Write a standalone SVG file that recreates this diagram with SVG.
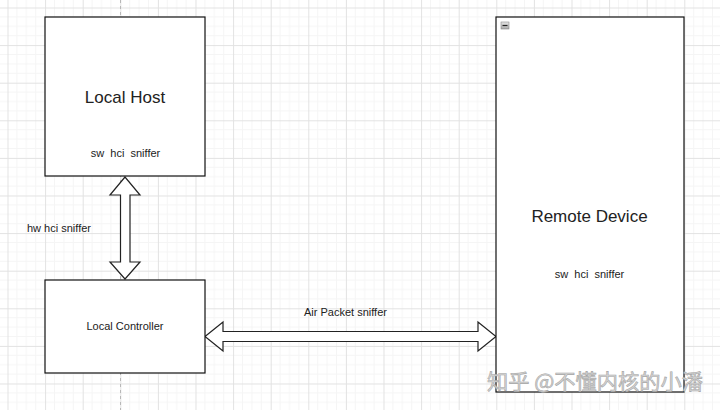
<svg xmlns="http://www.w3.org/2000/svg" width="720" height="410" viewBox="0 0 720 410">
  <defs>
    <pattern id="grid" x="7.5" y="7.5" width="37.6" height="37.6" patternUnits="userSpaceOnUse">
      <path d="M9.4 0V37.6M18.8 0V37.6M28.2 0V37.6M0 9.4H37.6M0 18.8H37.6M0 28.2H37.6" stroke="#f5f5f5" stroke-width="1" fill="none"/>
      <path d="M0.5 0V37.6M0 0.5H37.6" stroke="#e2e2e2" stroke-width="1" fill="none"/>
    </pattern>
    <linearGradient id="icon" x1="0" y1="0" x2="0" y2="1">
      <stop offset="0" stop-color="#e8e8e8"/>
      <stop offset="1" stop-color="#a8a8a8"/>
    </linearGradient>
  </defs>
  <style>
    .box { fill: #ffffff; stroke: #111111; stroke-width: 1.2; }
    .arrow { fill: #ffffff; stroke: #222222; stroke-width: 1.2; stroke-linejoin: miter; }
    .big { font-family: "Liberation Sans", Arial, sans-serif; font-size: 17px; fill: #222222; text-anchor: middle; }
    .small { font-family: "Liberation Sans", Arial, sans-serif; font-size: 11px; fill: #222222; text-anchor: middle; white-space: pre; }
  </style>
  <rect width="720" height="410" fill="#ffffff"/>
  <rect width="720" height="410" fill="url(#grid)"/>
  <line x1="120.5" y1="0" x2="120.5" y2="410" stroke="#b8b8b8" stroke-width="1" stroke-dasharray="3,3"/>

  <g id="connectors">
    <polygon class="arrow" points="125,177 110,195 120.5,195 120.5,262 110,262 125,279 140,262 130,262 130,195 140,195"/>
    <polygon class="arrow" points="205,336.5 223,322 223,331.5 478,331.5 478,322 496,336.5 478,351 478,341.5 223,341.5 223,351"/>
    <text class="small" x="59" y="231.5">hw hci sniffer</text>
    <text class="small" x="345.5" y="315.5">Air Packet sniffer</text>
  </g>

  <g id="local-host">
    <rect class="box" x="45" y="17" width="160" height="159"/>
    <text class="big" x="125" y="102.5">Local Host</text>
    <text class="small" x="125.5" y="156.5">sw  hci  sniffer</text>
  </g>

  <g id="local-controller">
    <rect class="box" x="45" y="280" width="160" height="93"/>
    <text class="small" x="125" y="330">Local Controller</text>
  </g>

  <g id="remote-device">
    <rect class="box" x="496" y="17" width="188" height="375"/>
    <rect x="501" y="22" width="8" height="7" fill="url(#icon)" stroke="#888888" stroke-width="0.6"/>
    <line x1="502.5" y1="25.5" x2="507.5" y2="25.5" stroke="#222222" stroke-width="1.2"/>
    <text class="big" x="589.5" y="222">Remote Device</text>
    <text class="small" x="589.5" y="278">sw  hci  sniffer</text>
  </g>

  <text x="487" y="388.5" textLength="216" lengthAdjust="spacingAndGlyphs" font-family="'Noto Sans CJK SC', 'Noto Sans', sans-serif" font-size="21" fill="#d6d6d6" stroke="#a6a6a6" stroke-width="0.6">知乎 @不懂内核的小潘</text>
</svg>
